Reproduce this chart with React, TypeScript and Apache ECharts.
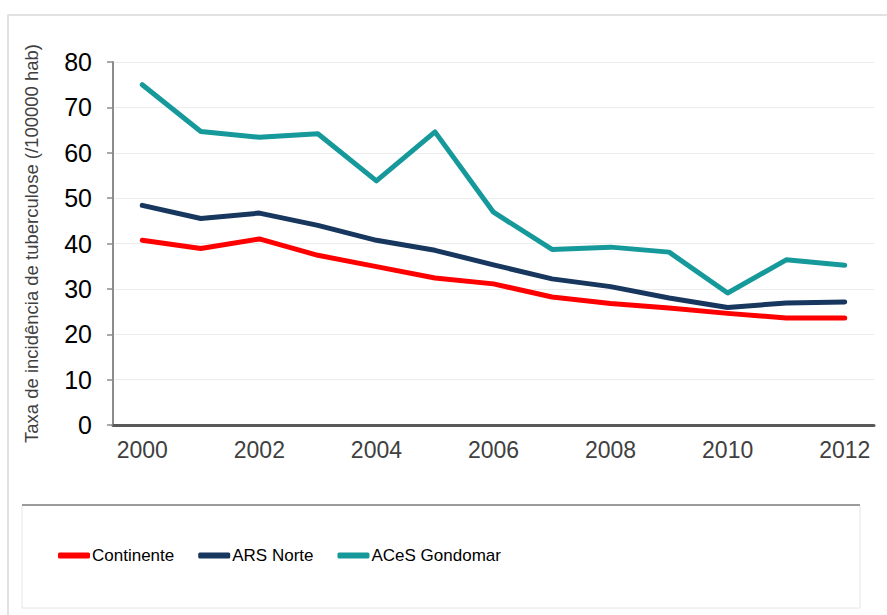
import React, { useEffect, useRef } from "react";
import * as echarts from "echarts";

const years = ["2000", "2001", "2002", "2003", "2004", "2005", "2006", "2007", "2008", "2009", "2010", "2011", "2012"];
const continente = [40.7, 38.9, 41.0, 37.4, 34.9, 32.4, 31.1, 28.2, 26.8, 25.8, 24.6, 23.6, 23.6];
const arsNorte = [48.4, 45.5, 46.7, 44.0, 40.7, 38.5, 35.3, 32.2, 30.5, 28.0, 25.9, 26.9, 27.1];
const acesGondomar = [75.0, 64.7, 63.4, 64.2, 53.8, 64.6, 46.9, 38.7, 39.2, 38.1, 29.1, 36.4, 35.2];
const yTicks = [0, 10, 20, 30, 40, 50, 60, 70, 80];

export default function App() {
  const ref = useRef<HTMLDivElement>(null);
  useEffect(() => {
    if (!ref.current) return;
    const chart = echarts.init(ref.current, null, { renderer: "svg" });
    const mk = (name: string, data: number[], color: string) => ({
      name,
      type: "line",
      data,
      symbol: "none",
      lineStyle: { color, width: 5, cap: "round", join: "round" },
      itemStyle: { color },
    });
    chart.setOption({
      animation: false,
      backgroundColor: "#ffffff",
      textStyle: { fontFamily: "Liberation Sans, Arial, sans-serif" },
      grid: { left: 113, right: 13, top: 62, bottom: 190, containLabel: false },
      graphic: [
        {
          type: "rect",
          shape: { x: 8, y: 15, width: 900, height: 620 },
          style: { fill: "none", stroke: "#d9d9d9", lineWidth: 1.5 },
          silent: true,
        },
        {
          type: "rect",
          shape: { x: 22, y: 505, width: 838, height: 103 },
          style: { fill: "none", stroke: "#e6e6e6", lineWidth: 1 },
          silent: true,
        },
        {
          type: "line",
          shape: { x1: 22, y1: 505, x2: 860, y2: 505 },
          style: { stroke: "#7f7f7f", lineWidth: 1.5 },
          silent: true,
        },
      ],
      legend: {
        left: 53,
        top: 542,
        itemGap: 24,
        itemWidth: 32,
        itemHeight: 6,
        icon: "roundRect",
        textStyle: {
          fontSize: 17,
          color: "#000000",
          padding: [0, 0, 0, -3],
        },
        data: ["Continente", "ARS Norte", "ACeS Gondomar"],
      },
      xAxis: {
        type: "category",
        data: years,
        boundaryGap: true,
        axisLine: { lineStyle: { color: "#595959", width: 3 } },
        axisTick: { interval: 0, length: 9, lineStyle: { color: "#8c8c8c", width: 2 } },
        axisLabel: { interval: 1, fontSize: 23, color: "#404040", margin: 13 },
        splitLine: { show: false },
      },
      yAxis: {
        type: "value",
        min: 0,
        max: 80,
        interval: 10,
        name: "Taxa de incidência de tuberculose (/100000 hab)",
        nameLocation: "middle",
        nameRotate: 90,
        nameGap: 72,
        nameTextStyle: { fontSize: 18.5, color: "#404040" },
        axisLine: { show: true, lineStyle: { color: "#8c8c8c", width: 2 } },
        axisTick: { show: true, length: 6, lineStyle: { color: "#8c8c8c", width: 1.5 } },
        axisLabel: {
          fontSize: 25,
          color: "#000000",
          margin: 21,
          formatter: (v: number) => (yTicks.includes(v) ? String(v) : ""),
        },
        splitLine: { lineStyle: { color: "#ececec", width: 1 } },
      },
      series: [
        mk("Continente", continente, "#ff0000"),
        mk("ARS Norte", arsNorte, "#17375e"),
        mk("ACeS Gondomar", acesGondomar, "#16999a"),
      ],
    });
    return () => chart.dispose();
  }, []);
  return (
    <div
      ref={ref}
      style={{ position: "fixed", left: 0, top: 0, width: 887, height: 615, background: "#fff" }}
    />
  );
}
